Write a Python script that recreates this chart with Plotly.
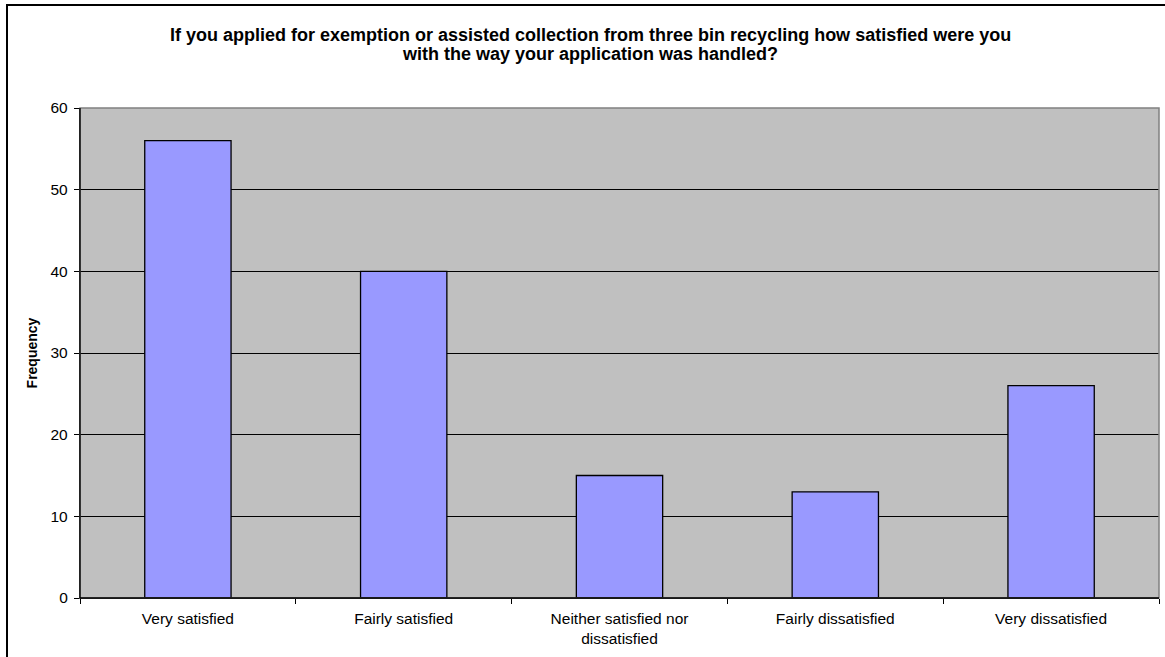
import plotly.graph_objects as go

categories = ["Very satisfied", "Fairly satisfied", "Neither satisfied nor<br>dissatisfied",
              "Fairly dissatisfied", "Very dissatisfied"]
values = [56, 40, 15, 13, 26]
y_ticks = [0, 10, 20, 30, 40, 50, 60]

title_lines = ["If you applied for exemption or assisted collection from three bin recycling how satisfied were you",
               "with the way your application was handled?"]

FONT = "Liberation Sans, Arial, sans-serif"
W, H = 1165, 657
L, R, T, B = 80, 6, 108, 59
PW, PH = W - L - R, H - T - B

fig = go.Figure(go.Bar(
    x=categories, y=values,
    marker=dict(color="#9999FF", line=dict(color="black", width=1.3)),
    width=0.4,
))

title_centers_px = [35, 54]
annotations = [
    dict(text="<b>%s</b>" % line, xref="paper", yref="paper",
         x=(590 - L) / PW, y=1 + (T - yc) / PH, xanchor="center", yanchor="middle",
         showarrow=False, font=dict(family=FONT, size=18, color="black"))
    for line, yc in zip(title_lines, title_centers_px)
]

fig.update_layout(
    width=W, height=H,
    margin=dict(l=L, r=R, t=T, b=B),
    paper_bgcolor="white",
    plot_bgcolor="#C0C0C0",
    showlegend=False,
    font=dict(family=FONT, size=15, color="black"),
    annotations=annotations,
    xaxis=dict(
        showgrid=False, showline=True, linecolor="black", linewidth=1.3,
        ticks="outside", ticklen=5, tickcolor="black", tickson="boundaries",
        tickfont=dict(family=FONT, size=15.5), ticklabelstandoff=6,
    ),
    yaxis=dict(
        range=[0, 60], tickvals=y_ticks, showgrid=True, gridcolor="black", gridwidth=1,
        showline=True, linecolor="black", linewidth=1.3, ticks="outside", ticklen=5,
        tickcolor="black", zeroline=False,
        tickfont=dict(family=FONT, size=15.5), ticklabelstandoff=3,
        title=dict(text="<b>Frequency</b>", font=dict(family=FONT, size=14), standoff=9),
    ),
    shapes=[
        dict(type="rect", xref="paper", yref="paper", x0=0, x1=1, y0=0, y1=1,
             line=dict(color="#808080", width=1.5), layer="above"),
        dict(type="line", xref="paper", yref="paper", x0=0, x1=0, y0=0, y1=1,
             line=dict(color="black", width=1.3), layer="above"),
        dict(type="line", xref="paper", yref="paper", x0=0, x1=1, y0=0, y1=0,
             line=dict(color="black", width=1.3), layer="above"),
        dict(type="rect", xref="paper", yref="paper",
             x0=(7 - L) / PW, x1=1.2, y0=-0.3, y1=1 + (T - 5) / PH,
             line=dict(color="black", width=2)),
    ],
)

fig.write_html("out.html", config={"displayModeBar": False},
               post_script="document.body.style.margin='0';document.body.style.overflow='hidden';")
